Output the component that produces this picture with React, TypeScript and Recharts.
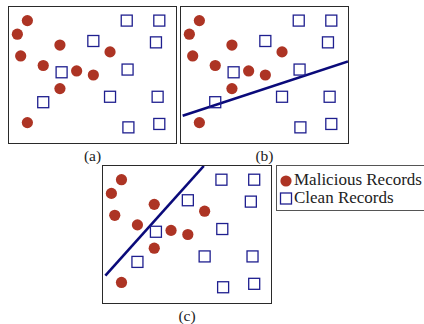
import React from 'react';
import { ScatterChart, Scatter, XAxis, YAxis, ReferenceLine } from 'recharts';

// point positions in a 0..100 frame space
const maliciousX = [11, 5, 7, 30.5, 20.5, 40.5, 50.5, 60.5, 30.5, 11];
const maliciousY = [90, 80, 64, 72, 57, 53, 50, 67, 40, 15];
const cleanX = [70.5, 90, 50.5, 88, 31.5, 71, 20.5, 60.5, 89, 71.5, 90];
const cleanY = [90, 90, 75, 74, 52, 54, 30, 34, 34, 11.5, 14];

// separating lines for panels (b) and (c)
const lineB = [
  { x: 1, y: 20 },
  { x: 100, y: 60 },
];
const lineC = [
  { x: 1.4, y: 20 },
  { x: 60, y: 100 },
];

const panelLabels = ['(a)', '(b)', '(c)'];
const legendLabels = ['Malicious Records', 'Clean Records'];

const RED = '#ad3424';
const BLUE = '#1f1f8f';
const NAVY = '#0a0a7a';
const FONT = '"Liberation Serif", "DejaVu Serif", serif';

const malicious = maliciousX.map((x, i) => ({ x, y: maliciousY[i] }));
const clean = cleanX.map((x, i) => ({ x, y: cleanY[i] }));

const Dot = (p: any) => <circle cx={p.cx} cy={p.cy} r={5.6} fill={RED} />;
const Box = (p: any) => (
  <rect x={p.cx - 5.5} y={p.cy - 5.5} width={11} height={11} fill="none" stroke={BLUE} strokeWidth={1.3} />
);

interface PanelProps {
  left: number;
  top: number;
  width: number;
  height: number;
  label: string;
  line?: { x: number; y: number }[];
}

function Panel({ left, top, width, height, label, line }: PanelProps) {
  return (
    <>
      <div
        style={{
          position: 'absolute',
          left: left - 1,
          top: top - 1,
          width,
          height,
          border: '1.5px solid #2a2a2a',
        }}
      />
      <div style={{ position: 'absolute', left, top }}>
        <ScatterChart width={width} height={height} margin={{ top: 0, right: 0, bottom: 0, left: 0 }}>
          <XAxis type="number" dataKey="x" domain={[0, 100]} hide />
          <YAxis type="number" dataKey="y" domain={[0, 100]} hide />
          <Scatter data={malicious} shape={Dot} isAnimationActive={false} />
          <Scatter data={clean} shape={Box} isAnimationActive={false} />
          {line && <ReferenceLine segment={line} stroke={NAVY} strokeWidth={2.6} ifOverflow="visible" />}
        </ScatterChart>
      </div>
      <div
        style={{
          position: 'absolute',
          left,
          top: top + height + 4,
          width,
          textAlign: 'center',
          fontFamily: FONT,
          fontSize: 15.5,
          color: '#222',
        }}
      >
        {label}
      </div>
    </>
  );
}

export default function App() {
  return (
    <div style={{ position: 'absolute', left: 0, top: 0, width: 424, height: 324, background: '#fff', overflow: 'hidden' }}>
      <Panel left={9} top={7} width={167} height={136} label={panelLabels[0]} />
      <Panel left={181} top={7} width={167} height={136} label={panelLabels[1]} line={lineB} />
      <Panel left={103} top={166} width={168} height={137} label={panelLabels[2]} line={lineC} />
      <div
        style={{
          position: 'absolute',
          left: 276,
          top: 165,
          width: 160,
          height: 44,
          border: '1.5px solid #555',
          fontFamily: FONT,
          fontSize: 17,
          color: '#222',
        }}
      >
        <svg width={14} height={40} style={{ position: 'absolute', left: 2, top: 2 }}>
          <circle cx={7} cy={13} r={5.6} fill={RED} />
          <rect x={1.5} y={25} width={11} height={11} fill="none" stroke={BLUE} strokeWidth={1.3} />
        </svg>
        <div style={{ position: 'absolute', left: 17, top: 5, lineHeight: '18px', whiteSpace: 'nowrap' }}>
          {legendLabels[0]}
        </div>
        <div style={{ position: 'absolute', left: 17, top: 23, lineHeight: '18px', whiteSpace: 'nowrap' }}>
          {legendLabels[1]}
        </div>
      </div>
    </div>
  );
}
